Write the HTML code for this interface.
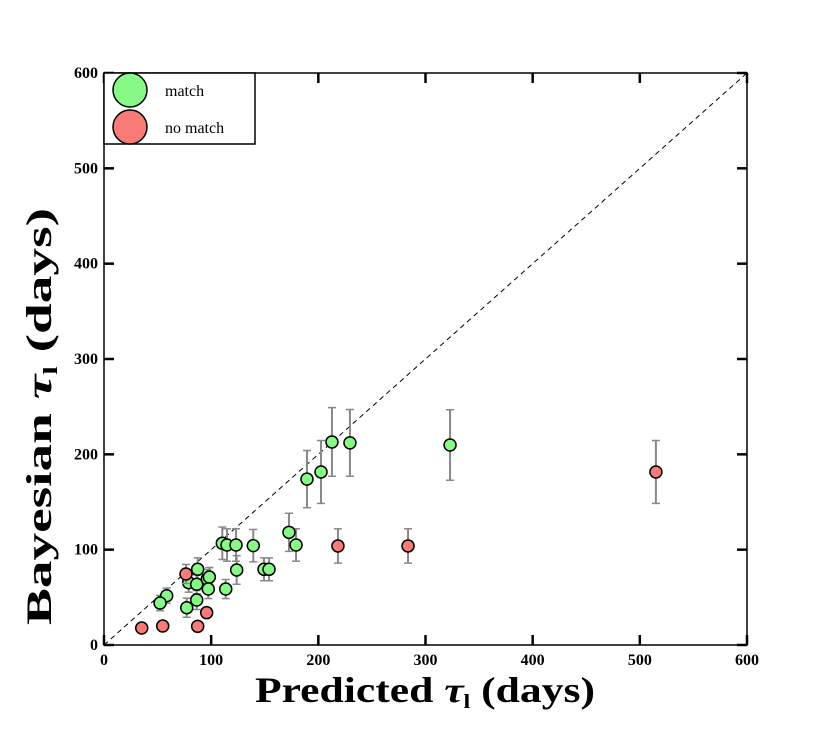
<!DOCTYPE html>
<html><head><meta charset="utf-8"><style>
body{margin:0;background:#fff}
svg{display:block;font-family:"Liberation Serif",serif}
</style></head><body>
<svg id="chart" width="830" height="738">
<g id="marks"></g>
<g id="axes"></g>
</svg>
<script>
const matchX=[58.5,52.3,79,87.4,86.5,96.4,98.3,97.3,86.5,77.2,113.6,110.4,114.8,123.2,139.3,123.8,149.3,154,172.6,179.2,189.4,202.5,212.7,229.5,322.9];
const matchY=[51.7,44,65.4,79.4,63.7,69.2,71.3,58.7,47.2,39.1,58.7,106.7,104.9,104.9,104.2,78.7,79.4,79.4,118.2,104.9,174,181.5,213,212,209.8];
const matchErr=[8,8,10,12,10,10,10,10,10,10,10,17,17,17,17,15,12,12,20,17,30,33,36,35,37];
const noX=[35.2,54.8,87.4,95.8,76.5,218.3,283.7,515];
const noY=[17.8,19.9,19.6,33.9,74.5,103.9,103.9,181.5];
const noErr=[0,0,0,0,10,18,18,33];
const ticks=[0,100,200,300,400,500,600];
const NS='http://www.w3.org/2000/svg';
const X0=104,X1=747,Y0=645,Y1=73;
const sx=v=>X0+(v/600)*(X1-X0), sy=v=>Y0-(v/600)*(Y0-Y1);
const marks=document.getElementById('marks'), axes=document.getElementById('axes');
function mk(t,a,p){const e=document.createElementNS(NS,t);for(const k in a)e.setAttribute(k,a[k]);(p||marks).appendChild(e);return e;}
const d=mk('line',{x1:sx(0),y1:sy(0),x2:sx(600),y2:sy(600),stroke:'#000','stroke-width':1,'stroke-dasharray':'5,4'});


function series(xs,ys,es,fill,name){
 xs.forEach((x,i)=>{if(es[i]>0){const e=mk('g',{});
  
  
  const cx=sx(x),t=sy(ys[i]+es[i]),b=sy(ys[i]-es[i]);
  mk('line',{x1:cx,x2:cx,y1:t,y2:b,stroke:'#888','stroke-width':2},e);
  mk('line',{x1:cx-4,x2:cx+4,y1:t,y2:t,stroke:'#888','stroke-width':1.5},e);
  mk('line',{x1:cx-4,x2:cx+4,y1:b,y2:b,stroke:'#888','stroke-width':1.5},e);}});
 xs.forEach((x,i)=>{const c=mk('circle',{cx:sx(x),cy:sy(ys[i]),r:6,fill:fill,stroke:'#000','stroke-width':1.5});
  
  });
}
series(matchX,matchY,matchErr,'#86f986','match');
series(noX,noY,noErr,'#f97b78','no-match');
const f=mk('rect',{x:X0,y:Y1,width:X1-X0,height:Y0-Y1,fill:'none',stroke:'#000','stroke-width':1.5},axes);


ticks.forEach(t=>{
 mk('line',{x1:sx(t),x2:sx(t),y1:Y0,y2:Y0-10,stroke:'#000','stroke-width':2.5},axes);
 mk('line',{x1:sx(t),x2:sx(t),y1:Y1,y2:Y1+10,stroke:'#000','stroke-width':2.5},axes);
 mk('line',{x1:X0,x2:X0+10,y1:sy(t),y2:sy(t),stroke:'#000','stroke-width':2.5},axes);
 mk('line',{x1:X1,x2:X1-10,y1:sy(t),y2:sy(t),stroke:'#000','stroke-width':2.5},axes);
 const xl=mk('text',{x:sx(t),y:Y0+20,'text-anchor':'middle','font-size':16,'font-weight':'bold'},axes);xl.textContent=t;
 
 
 const yl=mk('text',{x:X0-6,y:sy(t)+5,'text-anchor':'end','font-size':16,'font-weight':'bold'},axes);yl.textContent=t;
 
 
});
</script>
<svg style="position:absolute;left:0;top:0" width="830" height="738">
<text x="255" y="702" textLength="340" lengthAdjust="spacingAndGlyphs" font-family="Liberation Serif,serif" font-size="36" font-weight="bold">Predicted <tspan font-style="italic">τ</tspan><tspan font-size="20" dy="6">l</tspan><tspan dy="-6"> (days)</tspan></text>
<text transform="translate(51,625) rotate(-90)" textLength="417" lengthAdjust="spacingAndGlyphs" font-family="Liberation Serif,serif" font-size="36" font-weight="bold">Bayesian <tspan font-style="italic">τ</tspan><tspan font-size="20" dy="6">l</tspan><tspan dy="-6"> (days)</tspan></text>
<g>
<rect x="104" y="73" width="151" height="71" fill="#fff" stroke="#000" stroke-width="1.5"/>
<circle cx="130" cy="90" r="17" fill="#86f986" stroke="#000" stroke-width="1.5"/>
<circle cx="130" cy="127" r="17" fill="#f97b78" stroke="#000" stroke-width="1.5"/>
<text x="165" y="96" font-family="Liberation Serif,serif" font-size="16">match</text>
<text x="165" y="133" font-family="Liberation Serif,serif" font-size="16">no match</text>
</g>
</svg>
</body></html>
